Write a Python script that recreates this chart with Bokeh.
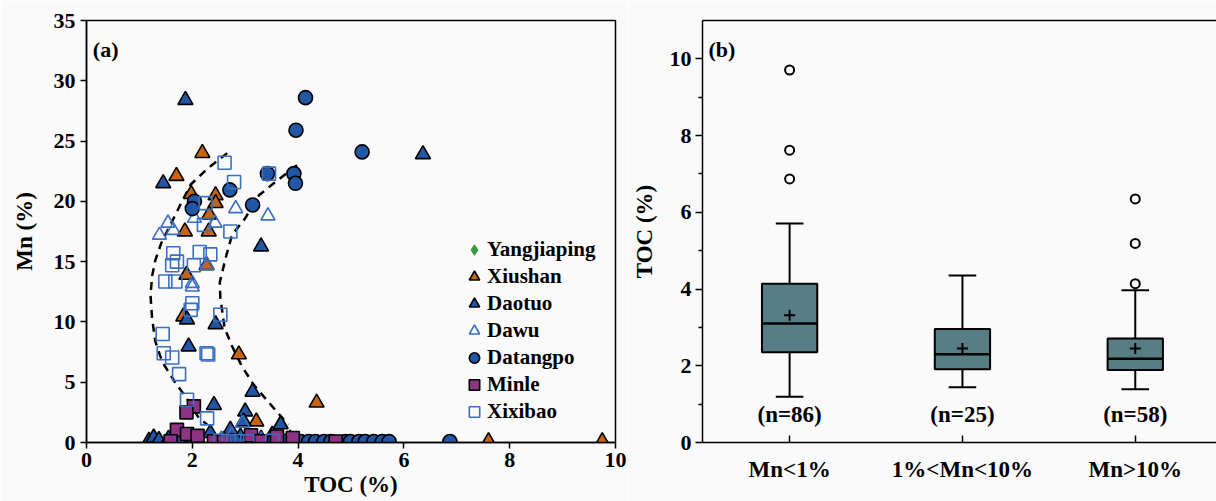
from bokeh.plotting import figure
from bokeh.layouts import row
from bokeh.models import Legend, LegendItem, Label, FixedTicker, LinearAxis, Range1d
from bokeh.core.properties import value
from bokeh.embed import file_html
from bokeh.resources import INLINE

FONT = "Liberation Serif"

# ---------------- data: panel (a) ----------------
yang_x = [2.9, 3.2, 3.45]
yang_y = [0.05, 0.05, 0.05]

xiu_x = [2.19, 1.70, 1.98, 2.44, 2.44, 2.32, 1.86, 2.31, 2.27, 1.89, 1.83, 2.88, 3.21, 4.35, 7.6, 9.75, 2.6, 3.3]
xiu_y = [24.0, 22.1, 20.6, 20.5, 19.85, 18.9, 17.5, 17.5, 14.7, 13.9, 10.45, 7.3, 1.74, 3.3, 0.1, 0.1, 0.2, 0.3]

dao_x = [1.87, 1.45, 6.36, 3.30, 1.90, 2.44, 1.93, 2.41, 3.14, 3.0, 2.97, 3.67,
         1.18, 1.27, 1.37, 1.55, 1.75, 2.0, 2.34, 2.72, 2.91, 3.51, 3.85, 2.1, 2.6, 3.2]
dao_y = [28.4, 21.5, 23.9, 16.25, 10.2, 9.8, 7.96, 3.1, 4.2, 2.57, 1.74, 1.5,
         0.15, 0.4, 0.2, 0.3, 0.15, 0.2, 0.78, 1.05, 0.5, 0.64, 0.3, 0.1, 0.2, 0.1]

dawu_x = [1.54, 1.38, 1.64, 2.04, 2.43, 2.82, 2.28, 2.0, 3.43, 2.0, 2.55, 2.75, 2.95, 3.3]
dawu_y = [18.2, 17.2, 17.6, 18.6, 18.2, 19.4, 14.7, 13.2, 18.8, 12.9, 0.3, 0.6, 1.6, 0.2]

dat_x = [4.14, 3.96, 5.21, 3.42, 3.92, 3.95, 3.14, 2.71, 2.04, 2.0,
         2.55, 2.8, 3.05, 3.32, 3.54, 3.75, 4.05, 4.2, 4.33, 4.49, 4.62, 4.9, 4.99,
         5.15, 5.27, 5.43, 5.59, 5.72, 6.87]
dat_y = [28.6, 25.9, 24.1, 22.3, 22.3, 21.5, 19.7, 20.95, 20.0, 19.4,
         0.1, 0.1, 0.1, 0.08, 0.08, 0.1, 0.08, 0.08, 0.08, 0.08, 0.08, 0.08, 0.08,
         0.08, 0.08, 0.08, 0.08, 0.08, 0.08]

min_x = [2.03, 1.89, 1.71, 1.90, 2.10, 1.59, 2.41, 3.11, 3.60, 3.90, 4.71, 2.6, 3.3]
min_y = [3.0, 2.5, 1.05, 0.7, 0.55, 0.1, 0.1, 0.6, 0.5, 0.37, 0.08, 0.1, 0.1]

xix_x = [2.61, 2.79, 3.45, 2.25, 2.22, 2.72, 1.64, 1.71, 1.62, 2.14, 2.34, 2.03, 1.49, 1.68,
         2.0, 1.97, 2.53, 1.44, 1.46, 1.62, 2.27, 2.30, 1.75, 1.90, 2.28,
         2.53, 2.69, 2.85, 3.04, 3.51]
xix_y = [23.2, 21.6, 22.3, 19.85, 18.05, 17.5, 15.7, 15.0, 14.7, 15.8, 15.6, 14.7, 13.35, 13.35,
         11.55, 11.0, 10.6, 9.0, 7.4, 7.05, 7.4, 7.3, 5.67, 3.54, 2.0,
         0.15, 0.1, 0.1, 0.1, 0.15]

# dashed envelope curves
outer_x = [2.66, 2.31, 1.97, 1.76, 1.58, 1.41, 1.30, 1.24, 1.21, 1.24, 1.30, 1.43, 1.68, 1.89, 2.12, 2.28]
outer_y = [24.0, 22.8, 21.4, 19.6, 18.0, 16.5, 15.1, 13.8, 12.2, 10.3, 8.4, 6.7, 4.95, 3.7, 2.05, 1.5]
inner_x = [3.98, 3.54, 3.26, 3.0, 2.75, 2.63, 2.52, 2.53, 2.61, 2.75, 2.94, 3.16, 3.45, 3.73, 3.82]
inner_y = [23.0, 21.5, 20.5, 18.6, 17.2, 15.3, 13.3, 12.0, 9.5, 8.0, 6.3, 4.8, 3.3, 1.9, 1.5]

# ---------------- data: panel (b) ----------------
cats = ["Mn<1%", "1%<Mn<10%", "Mn>10%"]
cat_pos = [1, 2, 3]
q1 = [2.35, 1.91, 1.89]
med = [3.10, 2.30, 2.18]
q3 = [4.14, 2.96, 2.71]
lo = [1.19, 1.44, 1.39]
hi = [5.71, 4.35, 3.97]
mean = [3.32, 2.45, 2.45]
counts = [86, 25, 58]
out_pos = [1, 1, 1, 3, 3, 3]
out_val = [9.71, 7.62, 6.87, 6.35, 5.19, 4.14]

ORANGE = "#c8640f"
BLUE = "#2456a6"
OPENBLUE = "#3d6fc0"
PURPLE = "#8c3384"
GREEN = "#3a9a3a"
TEAL = "#587d84"
BG = "#fafafa"


def style_axes(p):
    for ax in list(p.xaxis) + list(p.yaxis):
        ax.axis_line_width = 1.5
        ax.axis_line_color = "black"
        ax.major_tick_line_width = 1.5
        ax.minor_tick_line_width = 1.5
        ax.major_label_text_font = FONT
        ax.major_label_text_font_style = "bold"
        ax.major_label_text_font_size = "22px"
        ax.major_label_text_color = "black"
        ax.axis_label_text_font = FONT
        ax.axis_label_text_font_style = "bold"
        ax.axis_label_text_font_size = "23px"
        ax.axis_label_text_color = "black"


# ---------------- panel (a) ----------------
p1 = figure(width=628, height=501, x_range=Range1d(0, 10), y_range=Range1d(0, 35),
            output_backend="svg", toolbar_location=None,
            min_border_left=86, min_border_right=13, min_border_top=20, min_border_bottom=59,
            background_fill_color=BG, border_fill_color=BG)
p1.grid.visible = False
p1.outline_line_color = "black"
p1.outline_line_width = 1.5
p1.xaxis.ticker = FixedTicker(ticks=[0, 2, 4, 6, 8, 10])
p1.yaxis.ticker = FixedTicker(ticks=[0, 5, 10, 15, 20, 25, 30, 35])
p1.xaxis.axis_label = "TOC (%)"
p1.yaxis.axis_label = "Mn (%)"
style_axes(p1)
p1.axis.minor_tick_line_color = None
p1.axis.major_tick_out = 6
p1.axis.major_tick_in = 0
p1.xaxis.major_label_standoff = 4
p1.xaxis.axis_label_standoff = 2
p1.yaxis.major_label_standoff = 5
p1.yaxis.axis_label_standoff = 14

p1.line(outer_x, outer_y, line_color="black", line_width=2.5, line_dash="8 6")
p1.line(inner_x, inner_y, line_color="black", line_width=2.5, line_dash="8 6")

r_yang = p1.scatter(yang_x, yang_y, marker="diamond", size=13, fill_color=GREEN, line_color=GREEN, line_width=1)
r_xiu = p1.scatter(xiu_x, xiu_y, marker="triangle", size=15, fill_color=ORANGE, line_color="black", line_width=1.6)
r_dao = p1.scatter(dao_x, dao_y, marker="triangle", size=15, fill_color=BLUE, line_color="black", line_width=1.6)
r_dawu = p1.scatter(dawu_x, dawu_y, marker="triangle", size=14, fill_color="white", fill_alpha=0.0,
                    line_color=OPENBLUE, line_width=1.6)
r_dat = p1.scatter(dat_x, dat_y, marker="circle", size=14, fill_color=BLUE, line_color="black", line_width=1.6)
r_min = p1.scatter(min_x, min_y, marker="square", size=13, fill_color=PURPLE, line_color="black", line_width=1.6)
r_xix = p1.scatter(xix_x, xix_y, marker="square", size=13, fill_color="white", fill_alpha=0.0,
                   line_color=OPENBLUE, line_width=1.6)

legend = Legend(items=[
    LegendItem(label="Yangjiaping", renderers=[r_yang]),
    LegendItem(label="Xiushan", renderers=[r_xiu]),
    LegendItem(label="Daotuo", renderers=[r_dao]),
    LegendItem(label="Dawu", renderers=[r_dawu]),
    LegendItem(label="Datangpo", renderers=[r_dat]),
    LegendItem(label="Minle", renderers=[r_min]),
    LegendItem(label="Xixibao", renderers=[r_xix]),
], location=(375, 17))
legend.margin = 0
legend.padding = 0
legend.spacing = 0
legend.label_height = 27
legend.glyph_height = 27
legend.glyph_width = 26
legend.label_standoff = 0
legend.background_fill_alpha = 0
legend.border_line_color = None
legend.label_text_font = FONT
legend.label_text_font_style = "bold"
legend.label_text_font_size = "21px"
legend.label_text_color = "black"
p1.add_layout(legend)

p1.add_layout(Label(x=0.12, y=32.6, text="(a)", text_font=FONT, text_font_style="bold",
                    text_font_size="22px", text_color="black", text_baseline="alphabetic"))

# ---------------- panel (b) ----------------
p2 = figure(width=588, height=501, x_range=Range1d(0.496, 3.470), y_range=Range1d(0, 11),
            output_backend="svg", toolbar_location=None,
            min_border_left=69, min_border_right=0, min_border_top=20, min_border_bottom=59,
            background_fill_color=BG, border_fill_color=BG)
p2.grid.visible = False
p2.outline_line_color = None
p2.xaxis.ticker = FixedTicker(ticks=cat_pos)
p2.xaxis.major_label_overrides = {pos: c for pos, c in zip(cat_pos, cats)}
p2.yaxis.ticker = FixedTicker(ticks=[0, 2, 4, 6, 8, 10], minor_ticks=[1, 3, 5, 7, 9])
p2.yaxis.axis_label = "TOC (%)"
style_axes(p2)
p2.xaxis.major_tick_in = 7
p2.xaxis.major_tick_out = 0
p2.xaxis.minor_tick_line_color = None
p2.xaxis.major_label_standoff = 14
p2.xaxis.major_label_text_font_size = "23px"
p2.yaxis.major_tick_out = 7
p2.yaxis.major_tick_in = 0
p2.yaxis.minor_tick_out = 4
p2.yaxis.minor_tick_in = 0
p2.yaxis.major_label_standoff = 4
p2.yaxis.axis_label_standoff = 10

top_axis = LinearAxis(ticker=FixedTicker(ticks=[]), axis_line_width=1.5, axis_line_color="black",
                      major_tick_line_color=None, minor_tick_line_color=None)
p2.add_layout(top_axis, "above")

p2.segment(x0=cat_pos, y0=q3, x1=cat_pos, y1=hi, line_color="black", line_width=2)
p2.segment(x0=cat_pos, y0=lo, x1=cat_pos, y1=q1, line_color="black", line_width=2)
cap_half = 0.08
p2.segment(x0=[c - cap_half for c in cat_pos], y0=hi, x1=[c + cap_half for c in cat_pos], y1=hi,
           line_color="black", line_width=2)
p2.segment(x0=[c - cap_half for c in cat_pos], y0=lo, x1=[c + cap_half for c in cat_pos], y1=lo,
           line_color="black", line_width=2)
p2.vbar(x=cat_pos, width=0.32, bottom=q1, top=q3, fill_color=TEAL, line_color="black", line_width=2)
p2.segment(x0=[c - 0.16 for c in cat_pos], y0=med, x1=[c + 0.16 for c in cat_pos], y1=med,
           line_color="black", line_width=2.5)
p2.scatter(cat_pos, mean, marker="cross", size=11, line_color="black", line_width=2)
p2.scatter(out_pos, out_val, marker="circle", size=9, fill_color="white", line_color="black", line_width=2)
p2.text(x=cat_pos, y=[0.72] * 3, text=[f"(n={n})" for n in counts], text_font=value(FONT),
        text_font_style="bold", text_font_size="23px", text_align="center", text_baseline="middle",
        text_color="black")

p2.add_layout(Label(x=0.53, y=10.25, text="(b)", text_font=FONT, text_font_style="bold",
                    text_font_size="22px", text_color="black", text_baseline="alphabetic"))

layout = row(p1, p2)
open("out.html", "w").write(file_html(layout, INLINE))
